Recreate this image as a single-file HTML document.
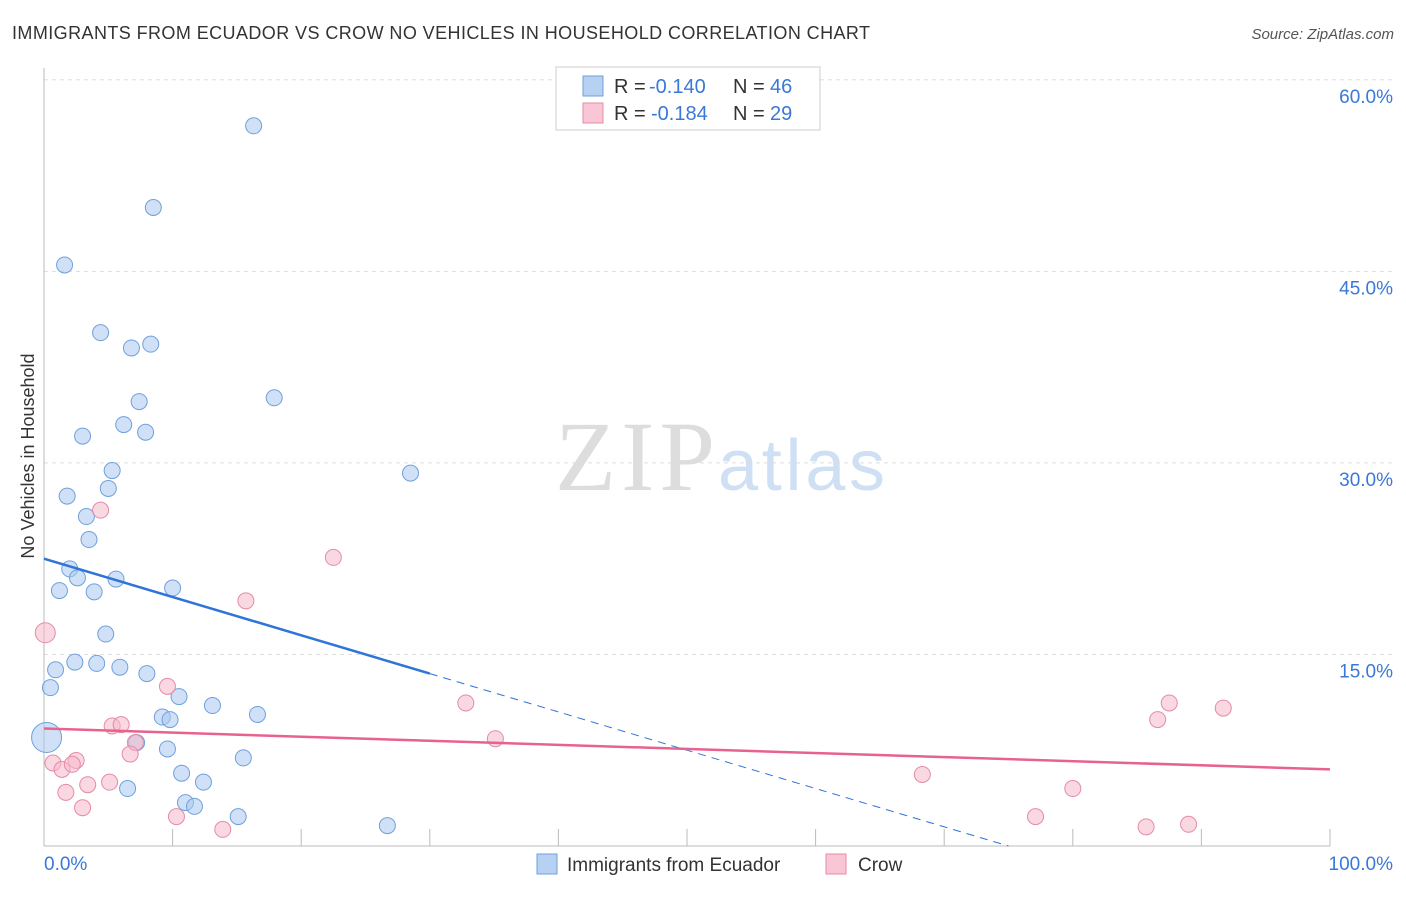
<!DOCTYPE html>
<html><head><meta charset="utf-8"><style>
body{margin:0;background:#fff;font-family:"Liberation Sans",sans-serif;}
svg text{font-family:"Liberation Sans",sans-serif;}
</style></head><body>
<svg width="1406" height="892" xmlns="http://www.w3.org/2000/svg">
<text x="12" y="39" font-size="18" fill="#333" textLength="858">IMMIGRANTS FROM ECUADOR VS CROW NO VEHICLES IN HOUSEHOLD CORRELATION CHART</text>
<text x="1394" y="39" font-size="15" fill="#555" font-style="italic" text-anchor="end">Source: ZipAtlas.com</text>
<g>
<text x="555" y="490" font-size="100" fill="#ddd" textLength="160" style="font-family:'Liberation Serif',serif">ZIP</text>
<text x="718" y="490" font-size="72" fill="#cfe0f5" textLength="167">atlas</text>
</g>
<g id="grid"></g>
<g id="axes"></g>
<g id="marks"></g>
<text transform="translate(34,456) rotate(-90)" font-size="18" fill="#333" text-anchor="middle">No Vehicles in Household</text>
<g>
<rect x="556" y="67" width="264" height="63" fill="#fff" stroke="#ccc"/>
<rect x="583" y="76" width="20" height="20" fill="#b7d1f3" stroke="#6fa0dc"/>
<text x="614" y="93" font-size="20" fill="#333">R =</text>
<text x="649" y="93" font-size="20" fill="#3a78d8">-0.140</text>
<text x="733" y="93" font-size="20" fill="#333">N =</text>
<text x="770" y="93" font-size="20" fill="#3a78d8">46</text>
<rect x="583" y="103" width="20" height="20" fill="#f8c6d5" stroke="#e68aa8"/>
<text x="614" y="120" font-size="20" fill="#333">R =</text>
<text x="651" y="120" font-size="20" fill="#3a78d8">-0.184</text>
<text x="733" y="120" font-size="20" fill="#333">N =</text>
<text x="770" y="120" font-size="20" fill="#3a78d8">29</text>
</g>
<g>
<rect x="537" y="854" width="20" height="20" fill="#b7d1f3" stroke="#6fa0dc"/>
<text x="567" y="871" font-size="19" fill="#333">Immigrants from Ecuador</text>
<rect x="826" y="854" width="20" height="20" fill="#f8c6d5" stroke="#e68aa8"/>
<text x="858" y="871" font-size="19" fill="#333">Crow</text>
</g>
</svg>
<script>
const blueX=[16.3,8.5,1.6,4.4,6.8,8.3,7.4,17.9,3.0,6.2,7.9,28.5,5.3,1.8,5.0,3.3,3.5,2.0,2.6,5.6,1.2,3.9,10.0,4.8,2.4,4.1,0.9,5.9,8.0,0.5,10.5,13.1,16.6,9.2,9.8,0.2,7.2,9.6,15.5,10.7,12.4,6.5,11.0,11.7,15.1,26.7];
const blueY=[56.4,50.0,45.5,40.2,39.0,39.3,34.8,35.1,32.1,33.0,32.4,29.2,29.4,27.4,28.0,25.8,24.0,21.7,21.0,20.9,20.0,19.9,20.2,16.6,14.4,14.3,13.8,14.0,13.5,12.4,11.7,11.0,10.3,10.1,9.9,8.5,8.1,7.6,6.9,5.7,5.0,4.5,3.4,3.1,2.3,1.6];
const pinkX=[0.1,4.4,22.5,15.7,9.6,32.8,5.3,6.0,35.1,7.1,6.7,0.7,2.5,1.4,2.2,1.7,3.4,5.1,3.0,10.3,13.9,68.3,77.1,80.0,87.5,86.6,91.7,85.7,89.0];
const pinkY=[16.7,26.3,22.6,19.2,12.5,11.2,9.4,9.5,8.4,8.1,7.2,6.5,6.7,6.0,6.4,4.2,4.8,5.0,3.0,2.3,1.3,5.6,2.3,4.5,11.2,9.9,10.8,1.5,1.7];
const yTicks=[15,30,45,60];
const yTickLabels=["15.0%","30.0%","45.0%","60.0%"];
const blueTrend=[22.5,-0.3];
const pinkTrend=[9.2,-0.032];
const X=v=>44+v*12.86, Y=v=>846-v*12.77;
const NS="http://www.w3.org/2000/svg";
function mk(p,t,a){const e=document.createElementNS(NS,t);for(const k in a)e.setAttribute(k,a[k]);p.appendChild(e);return e;}
const grid=document.getElementById('grid'),axes=document.getElementById('axes'),marks=document.getElementById('marks');
yTicks.forEach((t,i)=>{
 const g=mk(grid,'line',{x1:44,x2:1394,y1:Y(t),y2:Y(t),stroke:'#ddd','stroke-dasharray':'4,4'});
 
 
 const l=mk(axes,'text',{x:1393,y:Y(t)+23,'font-size':19,fill:'#3a78d8','text-anchor':'end'});l.textContent=yTickLabels[i];
 
 
});
mk(axes,'line',{x1:44,x2:44,y1:68,y2:846,stroke:'#bbb'});
mk(axes,'line',{x1:44,x2:1330,y1:846,y2:846,stroke:'#bbb'});
for(let i=0;i<=10;i++){mk(axes,'line',{x1:X(i*10),x2:X(i*10),y1:829,y2:846,stroke:'#bbb'});}
let t0=mk(axes,'text',{x:44,y:870,'font-size':19,fill:'#3a78d8'});t0.textContent='0.0%';


let t1=mk(axes,'text',{x:1393,y:870,'font-size':19,fill:'#3a78d8','text-anchor':'end'});t1.textContent='100.0%';


blueX.forEach((x,i)=>{const c=mk(marks,'circle',{cx:X(x),cy:Y(blueY[i]),r:(i==35?15:8),fill:'#a9c8f0','fill-opacity':0.55,stroke:'#6fa0dc','stroke-width':1});
 
 });
pinkX.forEach((x,i)=>{const c=mk(marks,'circle',{cx:X(x),cy:Y(pinkY[i]),r:(i==0?10:8),fill:'#f5b8cb','fill-opacity':0.55,stroke:'#e68aa8','stroke-width':1});
 
 });
const bz=-blueTrend[0]/blueTrend[1];
let l1=mk(marks,'line',{x1:X(0),y1:Y(blueTrend[0]),x2:X(30),y2:Y(blueTrend[0]+blueTrend[1]*30),stroke:'#2f74d8','stroke-width':2.5});


let l2=mk(marks,'line',{x1:X(30),y1:Y(blueTrend[0]+blueTrend[1]*30),x2:X(bz),y2:Y(0),stroke:'#2f74d8','stroke-width':1,'stroke-dasharray':'8,6'});


let l3=mk(marks,'line',{x1:X(0),y1:Y(pinkTrend[0]),x2:X(100),y2:Y(pinkTrend[0]+pinkTrend[1]*100),stroke:'#e8628e','stroke-width':2.5});


</script>
</body></html>
